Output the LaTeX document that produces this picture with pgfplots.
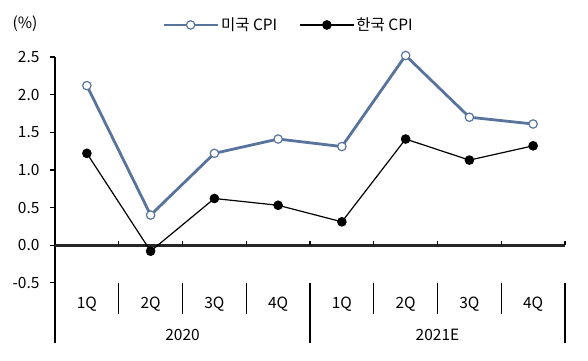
\documentclass[border=0pt]{standalone}
\usepackage{fontspec}
\setmainfont{Noto Sans CJK KR}
\usepackage{pgfplots}
\pgfplotsset{compat=1.18}
\definecolor{usblue}{RGB}{88,116,156}
\begin{document}
\begin{tikzpicture}[font=\fontsize{15.5bp}{18bp}\selectfont]
\begin{axis}[
  scale only axis, width=510bp, height=286bp,
  xmin=-0.5, xmax=7.5, ymin=-1.3, ymax=2.5,
  axis y line*=left, axis x line=none,
  y axis line style={line width=1.3bp, black},
  ytick={-0.5,0,0.5,1,1.5,2,2.5},
  tick align=outside, major tick length=5bp,
  y tick style={line width=1.3bp, black},
  yticklabel style={xshift=-7bp, /pgf/number format/.cd, fixed, fixed zerofill, precision=1, assume math mode=true},
  clip=false,
  legend columns=2,
  legend cell align=left,
  legend style={draw=none, fill=none, at={(axis description cs:0.204,1.112)}, anchor=west,
    nodes={inner sep=2bp}, /tikz/every even column/.append style={column sep=20bp}},
  legend image code/.code={\draw[mark repeat=2,mark phase=2] plot coordinates {(0bp,0bp)(27bp,0bp)(54bp,0bp)};},
]
\draw[line width=3bp, black!85] (axis cs:-0.5,0) -- (axis cs:7.5,0);
\pgfplotsinvokeforeach{0.5,1.5,2.5,3.5,4.5,5.5,6.5,7.5}{
  \draw[line width=1.3bp] (axis cs:#1,0) -- (axis cs:#1,0.05);
}
\pgfplotsinvokeforeach{0.5,1.5,2.5,4.5,5.5,6.5}{
  \draw[line width=1.3bp] (axis cs:#1,-0.5) -- (axis cs:#1,-0.91);
}
\draw[line width=1.3bp] (axis cs:3.5,-0.5) -- (axis cs:3.5,-1.3);
\draw[line width=1.3bp] (axis cs:7.5,-0.5) -- (axis cs:7.5,-1.3);
\node at (axis cs:0,-0.79) {1Q};
\node at (axis cs:1,-0.79) {2Q};
\node at (axis cs:2,-0.79) {3Q};
\node at (axis cs:3,-0.79) {4Q};
\node at (axis cs:4,-0.79) {1Q};
\node at (axis cs:5,-0.79) {2Q};
\node at (axis cs:6,-0.79) {3Q};
\node at (axis cs:7,-0.79) {4Q};
\node at (axis cs:1.5,-1.19) {2020};
\node at (axis cs:5.5,-1.19) {2021E};
\node at ([shift={(-30bp,33bp)}]rel axis cs:0,1) {(\%)};
\addplot[usblue, line width=2.8bp, mark=*, mark size=4.2bp,
  mark options={fill=white, draw=usblue, line width=1.2bp}]
  coordinates {(0,2.12)(1,0.40)(2,1.22)(3,1.41)(4,1.31)(5,2.52)(6,1.70)(7,1.61)};
\addlegendentry{미국 CPI}
\addplot[black, line width=1.2bp, mark=*, mark size=4.2bp]
  coordinates {(0,1.22)(1,-0.08)(2,0.62)(3,0.53)(4,0.31)(5,1.41)(6,1.13)(7,1.32)};
\addlegendentry{한국 CPI}
\end{axis}
\path ([shift={(-55bp,-17bp)}]current axis.south west) rectangle ([shift={(23bp,57bp)}]current axis.north east);
\end{tikzpicture}
\end{document}
